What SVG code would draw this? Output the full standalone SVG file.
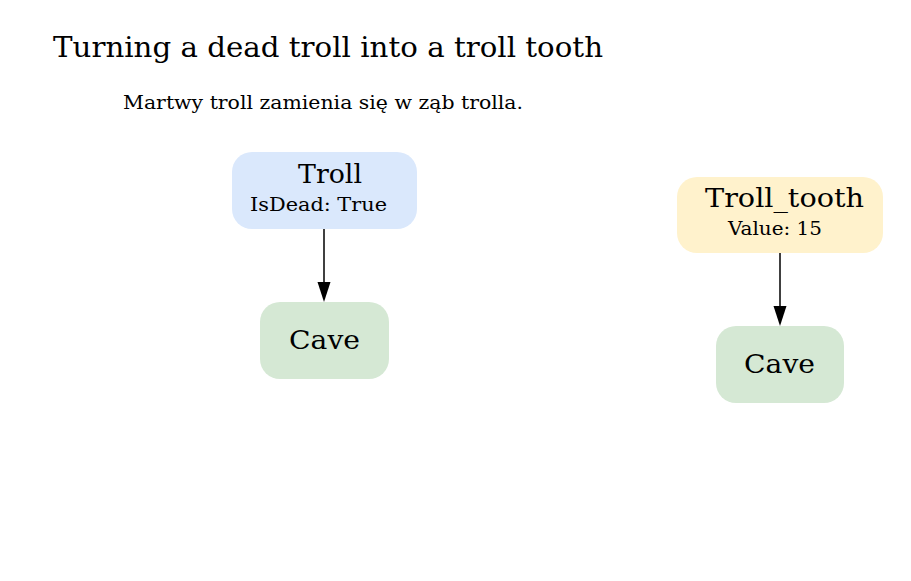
<svg xmlns="http://www.w3.org/2000/svg" width="911" height="581" viewBox="0 0 911 581">
<style>
text{font-family:"DejaVu Serif",serif;fill:#000}
.t{font-size:27px}
.s{font-size:18.5px}
.n{font-size:26px}
.a{font-size:18.5px}
.edge{stroke:#000;stroke-width:1.5;fill:none}
</style>
<rect width="911" height="581" fill="#fff"/>
<text class="t" x="53" y="57" textLength="550" lengthAdjust="spacingAndGlyphs">Turning a dead troll into a troll tooth</text>
<text class="s" x="123" y="109" textLength="400" lengthAdjust="spacingAndGlyphs">Martwy troll zamienia się w ząb trolla.</text>
<g id="connectors">
<path class="edge" d="M324,229 L324,282"/>
<path d="M317.5,282 L330.5,282 L324,302 Z" fill="#000"/>
<path class="edge" d="M780,253 L780,306"/>
<path d="M773.5,306 L786.5,306 L780,326 Z" fill="#000"/>
</g>
<g id="troll">
<rect x="232" y="152" width="185" height="77" rx="20" fill="#dae8fc"/>
<text class="n" x="298" y="183" textLength="64" lengthAdjust="spacingAndGlyphs">Troll</text>
<text class="a" x="250" y="211" textLength="137" lengthAdjust="spacingAndGlyphs">IsDead: True</text>
</g>
<g id="cave1">
<rect x="260" y="302" width="129" height="77" rx="20" fill="#d5e8d4"/>
<text class="n" x="289" y="349" textLength="71" lengthAdjust="spacingAndGlyphs">Cave</text>
</g>
<g id="troll_tooth">
<rect x="677" y="177" width="206" height="76" rx="20" fill="#fff2cc"/>
<text class="n" x="705" y="207" textLength="159" lengthAdjust="spacingAndGlyphs">Troll_tooth</text>
<text class="a" x="728" y="235" textLength="94" lengthAdjust="spacingAndGlyphs">Value: 15</text>
</g>
<g id="cave2">
<rect x="716" y="326" width="128" height="77" rx="20" fill="#d5e8d4"/>
<text class="n" x="744" y="372.5" textLength="71" lengthAdjust="spacingAndGlyphs">Cave</text>
</g>
</svg>
